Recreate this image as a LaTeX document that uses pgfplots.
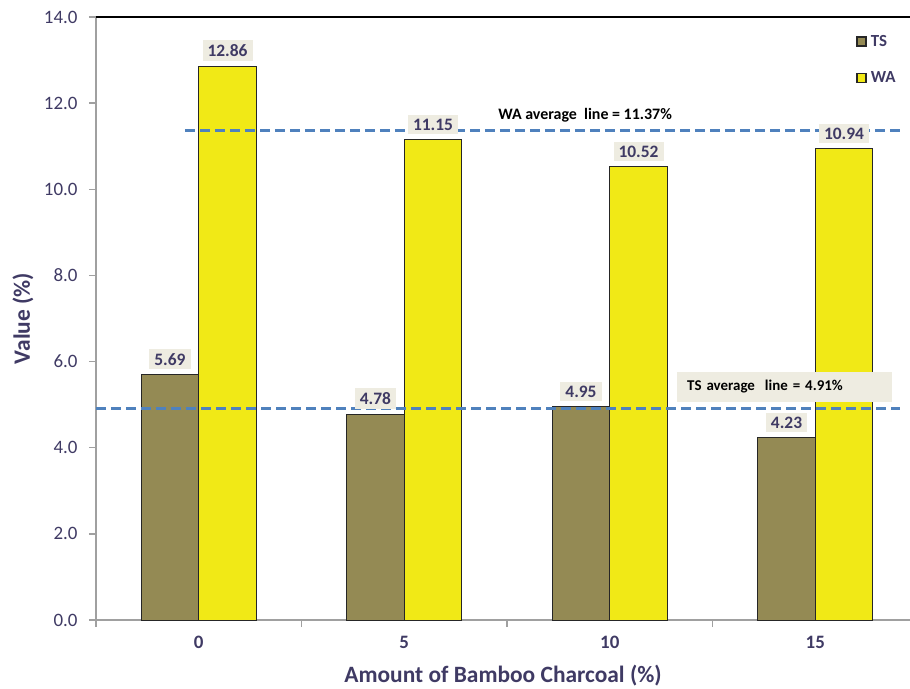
\documentclass[border=0pt]{standalone}
\usepackage{pgfplots}
\pgfplotsset{compat=1.18}
\usepackage{fontspec}
\setmainfont{Carlito}

\definecolor{tsolive}{HTML}{948A54}
\definecolor{wayellow}{HTML}{F1E916}
\definecolor{labelbox}{HTML}{EEECE1}
\definecolor{avgblue}{HTML}{4F81BD}
\definecolor{axtext}{HTML}{3F3A64}
\definecolor{axgray}{HTML}{A0A0A0}

\pgfplotsset{
  valuelabels/.style={
    nodes near coords,
    nodes near coords style={font=\bfseries\fontsize{17.5}{20}\selectfont, text=axtext,
      fill=labelbox, inner xsep=5bp, inner ysep=4bp, anchor=south, yshift=5bp,
      /pgf/number format/.cd, fixed, fixed zerofill, precision=2},
  },
  avgline/.style={forget plot, no marks, draw=avgblue, line width=2.7bp,
    dash pattern=on 10bp off 5bp},
}

\begin{document}
\begin{tikzpicture}
\useasboundingbox (-96bp,-69bp) rectangle (814bp,620bp);
\begin{axis}[
  at={(0,0)}, anchor=south west,
  scale only axis, width=814bp, height=603bp,
  xmin=-0.5, xmax=3.461, ymin=0, ymax=14,
  axis x line*=bottom, axis y line*=left,
  axis line style={draw=axgray, line width=1.5bp},
  /pgf/number format/assume math mode=true,
  ytick={0,2,4,6,8,10,12,14},
  yticklabel style={font=\fontsize{19}{22}\selectfont, text=axtext, xshift=-8bp,
    /pgf/number format/.cd, fixed, fixed zerofill, precision=1},
  xtick={0,1,2,3}, xticklabels={0,5,10,15},
  xticklabel style={font=\bfseries\fontsize{19}{22}\selectfont, text=axtext, yshift=-6bp},
  minor xtick={-0.5,0.5,1.5,2.5},
  major x tick style={draw=none},
  minor x tick style={draw=axgray, line width=1.5bp},
  y tick style={draw=axgray, line width=1.5bp},
  tick align=outside, major tick length=7bp, minor tick length=7bp,
  xlabel={Amount of Bamboo Charcoal (\%)},
  ylabel={Value (\%)},
  xlabel style={font=\bfseries\fontsize{23.5}{26}\selectfont, text=axtext,
    at={(axis description cs:0.5,-0.093)}, anchor=center},
  ylabel style={font=\bfseries\fontsize{23.5}{27}\selectfont, text=axtext,
    at={(axis description cs:-0.0897,0.5)}, anchor=center},
  legend style={at={(0.93,0.977)}, anchor=north west, draw=none, fill=none,
    font=\bfseries\fontsize{17}{20}\selectfont, text=axtext, row sep=20bp},
  legend cell align=left,
  legend image code/.code={%
    \path[draw=none, fill=none] (0bp,-4.5bp) rectangle (12bp,4.5bp);
    \draw[#1, draw=black!85, line width=1.4bp] (0bp,-4.5bp) rectangle (9bp,4.5bp);},
]
% TS bars, left of each group
\addplot[ybar, bar width=0.28, bar shift=0, fill=tsolive, draw=black!85, line width=1bp, valuelabels]
  coordinates {(-0.14,5.69) (0.86,4.78) (1.86,4.95) (2.86,4.23)};
\addlegendentry{TS}
% WA bars, right of each group
\addplot[ybar, bar width=0.28, bar shift=0, fill=wayellow, draw=black!85, line width=1bp, valuelabels]
  coordinates {(0.14,12.86) (1.14,11.15) (2.14,10.52) (3.14,10.94)};
\addlegendentry{WA}

% average lines
\addplot[avgline] coordinates {(-0.067,11.37) (3.41,11.37)};
\addplot[avgline] coordinates {(-0.5,4.91) (3.41,4.91)};

\draw[black, line width=1.5bp] (rel axis cs:0,1) -- (rel axis cs:1,1);

\node[font=\bfseries\fontsize{16}{18}\selectfont, text=black, fill=white, inner sep=2bp]
  at (axis cs:1.88,11.73) {WA average\ \ line = 11.37\%};
\node[font=\bfseries\fontsize{15}{18}\selectfont, text=black, fill=labelbox,
  text width=195bp, align=left, inner xsep=10bp, minimum height=30bp, anchor=west]
  at (axis cs:2.327,5.41) {TS average\ \ line = 4.91\%};
\end{axis}
\end{tikzpicture}
\end{document}
